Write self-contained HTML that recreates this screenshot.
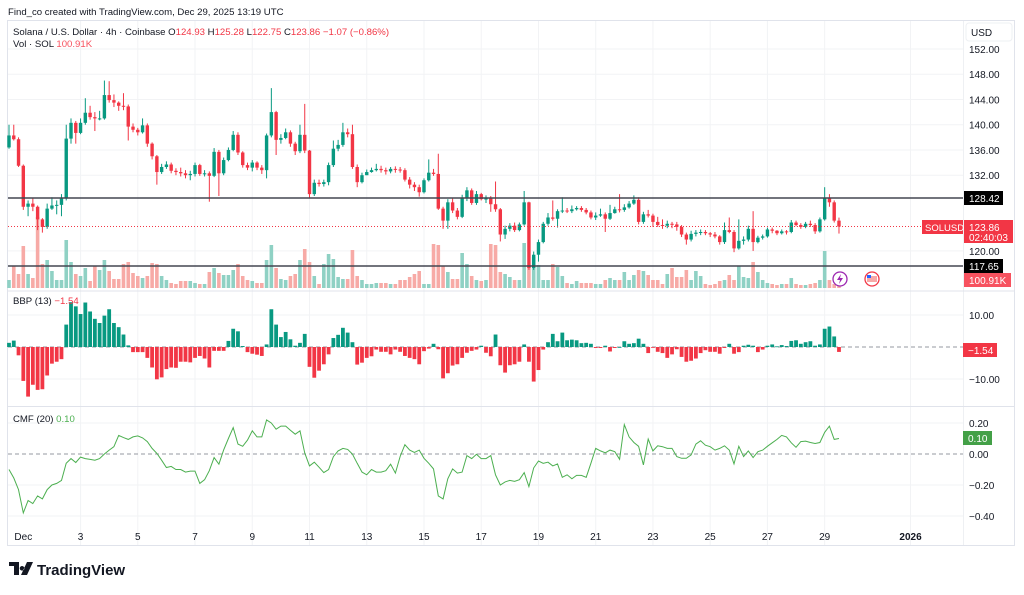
<!DOCTYPE html>
<html><head><meta charset="utf-8"><style>
body{margin:0;background:#fff;font-family:"Liberation Sans",sans-serif;}
svg text{font-family:"Liberation Sans",sans-serif;}
</style></head><body>
<svg id="c" width="1024" height="590" viewBox="0 0 1024 590" xmlns="http://www.w3.org/2000/svg">
<rect x="0" y="0" width="1024" height="590" fill="#fff"/>
<text x="8" y="15" font-size="9.6" fill="#131722">Find_co created with TradingView.com, Dec 29, 2025 13:19 UTC</text>
<rect x="7.5" y="20.5" width="1007" height="525" fill="none" stroke="#e0e3eb"/>
<line x1="963.5" y1="21" x2="963.5" y2="545" stroke="#eef0f3"/>
<g id="grid"></g>
<g id="vols"></g>
<g id="candles"></g>
<line x1="8" y1="198" x2="963" y2="198" stroke="#434651" stroke-width="1.5"/>
<line x1="8" y1="266" x2="963" y2="266" stroke="#434651" stroke-width="1.5"/>
<line x1="8" y1="226.5" x2="963" y2="226.5" stroke="#f23645" stroke-dasharray="1,2"/>
<line x1="8" y1="291" x2="1014" y2="291" stroke="#e0e3eb"/>
<line x1="8" y1="406.5" x2="1014" y2="406.5" stroke="#e0e3eb"/>
<line x1="8" y1="347" x2="963" y2="347" stroke="#9598a1" stroke-dasharray="4,3"/>
<line x1="8" y1="454" x2="963" y2="454" stroke="#9598a1" stroke-dasharray="4,3"/>
<g id="bbp"></g>
<path id="cmf" fill="none" stroke="#4caf50" stroke-width="1"/>
<g id="axes" font-size="10" fill="#131722"></g>
<g font-size="9.6">
<text x="13" y="35" fill="#131722">Solana / U.S. Dollar · 4h · Coinbase  O<tspan fill="#f23645">124.93</tspan>  H<tspan fill="#f23645">125.28</tspan>  L<tspan fill="#f23645">122.75</tspan>  C<tspan fill="#f23645">123.86</tspan>  <tspan fill="#f23645">−1.07 (−0.86%)</tspan></text>
<text x="13" y="47" fill="#131722">Vol · SOL  <tspan fill="#f7525f">100.91K</tspan></text>
<text x="13" y="304" fill="#131722">BBP (13)  <tspan fill="#f23645">−1.54</tspan></text>
<text x="13" y="422" fill="#131722">CMF (20)  <tspan fill="#4caf50">0.10</tspan></text>
</g>
<rect x="966" y="23" width="46" height="18" rx="3" fill="#fff" stroke="#eef0f3"/>
<text x="971" y="36" font-size="10" fill="#131722">USD</text>
<rect x="964" y="191" width="39" height="14" fill="#000"/>
<text x="969" y="202" font-size="10" fill="#fff">128.42</text>
<rect x="922" y="220" width="41" height="14" fill="#f23645"/>
<text x="925" y="231" font-size="9.5" fill="#fff">SOLUSD</text>
<rect x="964" y="220" width="49" height="23" fill="#f23645"/>
<text x="969" y="231" font-size="10" fill="#fff">123.86</text>
<text x="969" y="241" font-size="10" fill="#fff">02:40:03</text>
<rect x="964" y="259" width="39" height="14" fill="#000"/>
<text x="969" y="270" font-size="10" fill="#fff">117.65</text>
<rect x="964" y="273" width="47" height="14" fill="#f7525f"/>
<text x="969" y="284" font-size="10" fill="#fff">100.91K</text>
<rect x="963" y="343" width="34" height="14" fill="#f23645"/>
<text x="968" y="354" font-size="10" fill="#fff">−1.54</text>
<rect x="963" y="431" width="29" height="14" fill="#43a047"/>
<text x="968" y="442" font-size="10" fill="#fff">0.10</text>
<g><circle cx="840" cy="279" r="7" fill="#fff" stroke="#9c27b0" stroke-width="1.3"/><path d="M841 274 L837 280 L840 280 L839 284 L843 278 L840 278 Z" fill="#9c27b0"/></g>
<g><circle cx="872" cy="279" r="7" fill="#fff" stroke="#f23645" stroke-width="1.3"/><rect x="867" y="276" width="10" height="6" fill="#f7a9a7"/><rect x="867" y="275" width="4" height="3" fill="#2962ff"/></g>
<g>
<path d="M9 562 H19 V575 H14 V566 H9 Z M22 566 a2.3 2.3 0 1 0 0.1 0 Z M27 562 H33 L27 575 H21 Z" fill="#131722"/>
<text x="37" y="575" font-size="15" font-weight="bold" fill="#131722">TradingView</text>
</g>
</svg>
<script>
const closes=[138.3,137.7,133.5,127,127.5,127,125,123.8,126.7,127.2,127.3,128.3,137.8,140.3,138.7,140.3,141.9,141.2,141.0,141,144.7,143.9,143.5,143,142.9,139.7,139.2,138.8,139.9,137,135,132.5,133.3,133.7,132.7,132.5,132.3,132,132.2,133.6,132.2,132.3,131.9,135.7,132.3,134.4,136,138.4,135.6,133.6,133.2,134,133.2,132.8,138.3,142,137.6,137.9,138.8,137,135.8,138.4,135.9,129,130.8,130.6,130.9,133.6,136.2,136.8,138.8,138.5,133.3,130.9,132,132.5,132.8,133,132.8,132.6,133,132.9,132.8,131.3,130.5,130.1,129.3,131.2,132.4,132.2,126.7,124.8,127.7,126.4,125.4,128.4,129.6,127.6,129,128.2,128.3,127.4,126.6,
122.6,123.5,124,123.3,124.2,127.7,117.3,119.4,121.4,124.3,125.3,125.1,126.3,126.4,126.3,126.6,126.8,126.5,126.1,125.3,125.6,125.8,125.1,126,126.6,126.5,126.9,127.5,128.1,124.6,125.8,125.6,124.6,124.1,124.0,124.3,124.2,123.8,122.6,121.8,122.7,122.9,123.0,122.8,122.6,122.3,121.4,123.3,123.0,120.4,121.6,121.8,123.5,121.4,122.1,122.3,123.4,123.2,122.8,123.1,123.0,124.5,124.1,123.8,124.3,124.1,123.1,125,128.4,127.7,124.8,123.86];
const firstOpen=136.4;
const highs=[140,140,138,133.7,128,128.4,127.2,125.2,127.5,128.5,128,129,140,141,140.6,141,144.2,143,142,142.2,147,146.9,144.8,143.7,145,143.2,140.2,139.5,141,140.2,137.2,135.2,133.8,134.2,134,133.1,133.2,132.8,132.7,134,133.8,132.8,132.6,136.3,136,134.8,136.4,139,138.8,135.8,134,134.4,134.2,133.6,138.6,145.8,142.2,138.5,139.4,139.1,137.3,140,143.3,136,131.3,131.3,131.3,134,137.5,137.6,140.3,139.4,140,133.7,132.4,132.9,133.2,133.8,133.5,133.2,133.3,133.4,133.3,133.1,131.7,130.9,130.5,131.5,134.5,133,135.4,127,128.2,128.3,126.8,128.9,130.1,129.9,129.5,129.2,128.8,128.7,131,
126.8,124,124.4,124.5,124.5,129.5,127.8,119.9,121.8,124.6,126,128,126.6,128.5,126.8,127.2,127.1,127.1,126.8,126.4,126.1,126.7,126.1,127.3,127,129,127.4,127.9,128.8,128.5,126.2,126.5,125.9,125.4,125,124.8,124.6,124.6,124.1,122.9,123.2,123.3,123.4,123.3,123,123,122.5,124.5,125.3,123.3,125,122.3,124,126.3,122.4,122.6,123.7,123.7,123.3,123.4,123.3,124.9,124.8,124.4,124.6,124.8,124.4,125.3,130.1,129,128,125.28];
const lows=[136.2,137.5,133.3,126.5,125.5,126.3,123.3,122.9,123.5,126.5,125.8,125.5,128,137,137,138.5,140,140.8,139,140.7,140.8,143.5,142.8,142.2,142.3,137.5,138.8,138.3,138.6,136.5,134.5,130.5,132.2,133,132.3,132,131.8,131.5,131.2,131.8,131.9,131.8,127.8,131.7,128.7,132,134.2,135.8,135.2,133.2,132.8,132.6,132.8,132.2,131.5,138,135.2,137,137.7,136.5,135.2,135.5,135.5,128.3,128.7,130.2,130.2,130.4,133.3,135.8,136.5,138,133,130.1,130.7,132.1,132.4,132.6,132.4,132.1,132.3,132.4,132.4,131,129.9,129.5,128.6,129.1,131,131.9,126.5,123.5,123.5,126,125,125.2,127.9,127.3,127.3,128,127.6,126.2,126.2,
121.5,121.9,123.1,123,123.1,124,117,117,118.3,121.2,124,124.8,123.7,126,126,126,126.4,126.2,125.8,125,124.9,125.4,123,124.9,125.9,126.1,126.2,126.7,127.3,124.2,124.3,125.3,123.8,123.8,123.5,123.6,123.6,123.2,122.2,121,121.5,122.3,122.5,122.5,122.2,122,121,121.1,122.8,119.8,120.2,121,121.5,120,121.2,121.8,122.1,122.8,122.5,122.6,122.6,122.8,123.9,123.5,123.6,123.8,122.7,122.9,124.8,127,124.5,122.75];
const volumesK=[240,660,420,1260,420,300,2130,720,840,510,240,240,1440,780,420,360,600,210,660,540,840,510,270,270,720,780,450,360,300,360,750,720,360,240,150,120,210,210,210,150,120,120,480,600,450,390,390,540,720,360,240,210,150,150,840,1290,600,270,240,360,420,840,1170,780,360,120,720,1020,870,330,270,270,1140,360,240,120,120,150,150,150,120,120,240,240,330,420,510,120,120,1320,1290,660,480,270,270,1050,720,360,240,210,240,1320,1290,
480,420,330,240,240,1350,690,930,690,240,240,720,630,360,150,120,210,150,150,150,120,120,240,300,240,240,480,240,390,540,510,390,240,240,120,420,600,330,330,540,240,510,360,120,90,120,210,240,390,240,660,330,300,780,480,240,150,120,90,120,120,300,120,90,90,120,150,240,1110,240,120,100.91];
const bbpValues=[1.3,2,-2.6,-10.6,-15.5,-11.8,-13.4,-13.2,-8.9,-5.2,-4.6,-3.8,7,14,12.7,10.3,13.9,11.1,8.8,7.5,9.8,11.8,7.5,6.2,3.9,0.5,-1.6,-1.6,-1.6,-3.4,-6.4,-10.1,-9.5,-6.9,-6.4,-6.5,-4.6,-4.6,-4.8,-3.4,-2.8,-3.6,-6.4,-1.2,-1.2,-1.2,1.9,5.7,4.9,0.3,-1.6,-2.1,-2.4,-2.8,0.8,11.8,7,3.1,4.7,2.4,0.4,1.3,4.1,-6.2,-9.6,-7.4,-5.4,-2.3,2.8,3.8,6,4.5,1.5,-5.5,-4.9,-3.4,-2.9,-0.8,-1.5,-1.5,-2.3,-0.8,-1.5,-2.8,-3.4,-3.8,-5.4,-1.3,-0.5,1,-0.7,-9.8,-8.2,-5.8,-5.4,-3.4,-1.8,-1.2,-0.8,0.4,-1.8,-2.9,3.9,-5.7,
-8,-5.7,-5.4,-4.6,0.8,-4.6,-10.8,-7.2,-0.8,1.5,4.1,1.8,4.5,2.1,2.3,2.1,1.2,1.3,1,-0.3,-0.3,0.4,-1.4,-0.3,0,1.8,1,1.2,2.6,1,-1.9,-0.2,-1.5,-1.9,-3.4,-2.3,-0.7,-3.1,-4.6,-4.3,-3.6,-1.9,-1,-1.5,-1.5,-2.1,-0.3,1,-2.1,-1.6,0.4,0.7,0.4,-1.6,-0.8,0.4,0.8,0.2,0.6,0.3,1.9,2.1,1,1.5,1.8,0.4,0.8,5.7,6.4,3.3,-1.54];
const cmfValues=[-0.10,-0.155,-0.23,-0.38,-0.30,-0.32,-0.27,-0.29,-0.23,-0.20,-0.19,-0.17,-0.06,-0.03,-0.055,-0.02,-0.03,-0.035,-0.04,-0.03,0,0.025,0.047,0.12,0.106,0.094,0.11,0.117,0.104,0.08,0.036,0.004,-0.04,-0.087,-0.08,-0.10,-0.10,-0.117,-0.11,-0.11,-0.19,-0.166,-0.108,-0.023,-0.066,0.025,0.1,0.17,0.064,0.05,0.09,0.15,0.11,0.11,0.22,0.2,0.16,0.18,0.18,0.153,0.128,0.15,0.008,-0.077,-0.053,-0.085,-0.12,-0.10,-0.017,0.02,0.036,0.03,0,-0.06,-0.117,-0.134,-0.10,-0.117,-0.117,-0.108,-0.066,-0.123,-0.017,0.06,0.025,0.01,0.025,-0.028,-0.06,-0.096,-0.27,-0.29,-0.16,-0.096,-0.123,-0.117,-0.01,-0.03,-0.002,-0.03,-0.03,-0.01,-0.134,-0.2,
-0.18,-0.17,-0.177,-0.166,-0.12,-0.21,-0.09,-0.045,-0.06,-0.053,-0.077,-0.064,-0.15,-0.134,-0.16,-0.138,-0.138,-0.15,-0.06,0.036,0.02,0.008,0.025,0.015,-0.034,0.19,0.11,0.074,0.05,-0.07,0.096,0.02,0.053,0.047,0.036,0.036,-0.017,-0.028,-0.028,-0.006,0.064,0.085,0.057,0.047,0.025,0.036,0.053,0.025,-0.064,0.05,-0.017,0.02,-0.023,0.015,0.025,0.05,0.072,0.094,0.12,0.11,0.072,0.043,0.08,0.083,0.074,0.068,0.074,0.14,0.18,0.094,0.10];
const priceTicks=[152,148,144,140,136,132,120];
const bbpTicks=[10,0,-10];
const cmfTicks=[0.2,0,-0.2,-0.4];
const dayLabels=["Dec","3","5","7","9","11","13","15","17","19","21","23","25","27","29","2026"];
const dayOffsets=[1,3,5,7,9,11,13,15,17,19,21,23,25,27,29,32];

const NS="http://www.w3.org/2000/svg";
const xIdx=i=>9+i*4.77;
const yP=p=>49+(152-p)*6.31;
const yV=v=>288-v/30;
const yB=v=>347-v*3.2;
const yC=v=>454-v*155;
function mk(tag,attrs,parent){const e=document.createElementNS(NS,tag);for(const k in attrs)e.setAttribute(k,attrs[k]);parent.appendChild(e);return e;}
const grid=document.getElementById('grid');
const axes=document.getElementById('axes');
function xD(d){return xIdx((d-1)*6+3);}
dayOffsets.forEach((d,k)=>{
  const x=xD(d);
  if(k>0){const l=mk('line',{x1:x,y1:21,x2:x,y2:545,stroke:'#f2f3f5'},grid);
  
  }
  const t=mk('text',{x:x,y:540,'text-anchor':'middle','font-weight':dayLabels[k]==='2026'?'bold':'normal'},axes);
  t.textContent=dayLabels[k];
  
  
});
priceTicks.forEach(p=>{
  const y=yP(p);
  const l=mk('line',{x1:8,y1:y,x2:963,y2:y,stroke:'#f2f3f5'},grid);
  
  
  const t=mk('text',{x:969,y:y+4},axes);t.textContent=p.toFixed(2);
  
  
});
bbpTicks.forEach(v=>{
  const y=yB(v);
  if(v!==0){const l=mk('line',{x1:8,y1:y,x2:963,y2:y,stroke:'#f2f3f5'},grid);
  
  }
  const t=mk('text',{x:969,y:y+4},axes);t.textContent=(v<0?'−':'')+Math.abs(v).toFixed(2);
  
  
});
cmfTicks.forEach(v=>{
  const y=yC(v);
  if(v!==0){const l=mk('line',{x1:8,y1:y,x2:963,y2:y,stroke:'#f2f3f5'},grid);
  
  }
  const t=mk('text',{x:969,y:y+4},axes);t.textContent=(v<0?'−':'')+Math.abs(v).toFixed(2);
  
  
});
const opens=[firstOpen].concat(closes.slice(0,-1));
const cg=document.getElementById('candles');
closes.forEach((c,i)=>{
  const o=opens[i],up=c>=o,col=up?'#089981':'#f23645',x=xIdx(i);
  const h=Math.max(highs[i]??c,o,c),lw=Math.min(lows[i]??c,o,c);
  const w=mk('line',{x1:x,y1:yP(h),x2:x,y2:yP(lw),stroke:col,'stroke-width':1},cg);
  
  
  const top=yP(Math.max(o,c)),bh=Math.max(1,yP(Math.min(o,c))-top);
  const r=mk('rect',{x:x-1.7,y:top,width:3.4,height:bh,fill:col},cg);
  
  
});
const vg=document.getElementById('vols');
volumesK.forEach((v,i)=>{
  const up=i<closes.length?closes[i]>=opens[i]:false;
  const y=yV(v);
  const r=mk('rect',{x:xIdx(i)-1.8,y:y,width:3.6,height:288-y,fill:up?'#8fd1c4':'#f7aaa6'},vg);
  
  
});
const bg=document.getElementById('bbp');
bbpValues.forEach((v,i)=>{
  const y0=yB(0),y1=yB(v);
  const r=mk('rect',{x:xIdx(i)-1.9,y:Math.min(y0,y1),width:3.8,height:Math.max(0.8,Math.abs(y1-y0)),fill:v>=0?'#089981':'#f23645'},bg);
  
  
});
document.getElementById('cmf').setAttribute('d',cmfValues.map((v,i)=>(i?'L':'M')+xIdx(i).toFixed(1)+' '+yC(v).toFixed(1)).join(' '));
</script>
</body></html>
